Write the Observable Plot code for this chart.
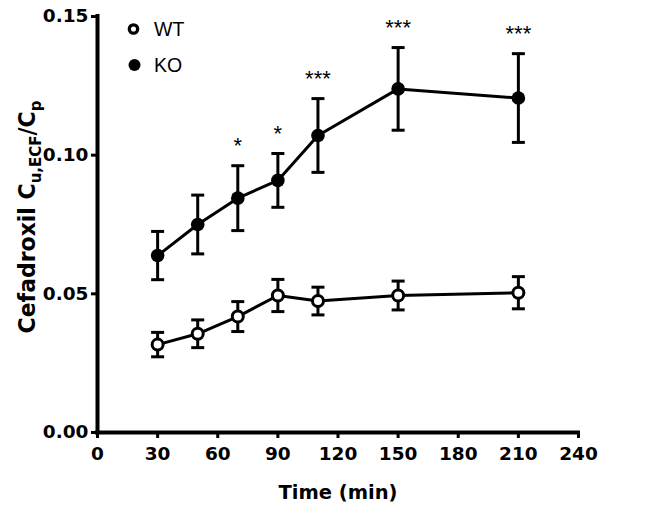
<!DOCTYPE html>
<html>
<head>
<meta charset="utf-8">
<script src="https://cdn.jsdelivr.net/npm/d3@7"></script>
<script src="https://cdn.jsdelivr.net/npm/@observablehq/plot@0.6"></script>
<style>
  html, body { margin: 0; padding: 0; background: #fff; }
  #chart svg { display: block; }
</style>
</head>
<body>
<div id="chart"></div>
<script>
const times = [30, 50, 70, 90, 110, 150, 210];
const wtMean = [0.0317, 0.0356, 0.0418, 0.0494, 0.0474, 0.0494, 0.0504];
const wtSem  = [0.0044, 0.0050, 0.0054, 0.0058, 0.0050, 0.0052, 0.0058];
const koMean = [0.0638, 0.0750, 0.0845, 0.0909, 0.1071, 0.1239, 0.1206];
const koSem  = [0.0087, 0.0106, 0.0117, 0.0097, 0.0133, 0.0149, 0.0160];
const signif = ["", "", "*", "*", "***", "***", "***"];
const xTicks = [0, 30, 60, 90, 120, 150, 180, 210, 240];
const yTicks = [0, 0.05, 0.10, 0.15];
const seriesNames = ["WT", "KO"];

const wt = times.map((t, i) => ({t, m: wtMean[i], s: wtSem[i]}));
const ko = times.map((t, i) => ({t, m: koMean[i], s: koSem[i], sig: signif[i]}));

const cap = { draw(ctx) { ctx.moveTo(-6.5, 0); ctx.lineTo(6.5, 0); } };
const boldFont = "'DejaVu Sans', Verdana, sans-serif";
const plainFont = "'Liberation Sans', Arial, Helvetica, sans-serif";

function errorMarks(data) {
  return [
    Plot.ruleX(data, {x: "t", y1: d => d.m - d.s, y2: d => d.m + d.s, stroke: "black", strokeWidth: 3}),
    Plot.dot(data, {x: "t", y: d => d.m + d.s, symbol: cap, stroke: "black", strokeWidth: 3, fill: "none"}),
    Plot.dot(data, {x: "t", y: d => d.m - d.s, symbol: cap, stroke: "black", strokeWidth: 3, fill: "none"})
  ];
}

const plot = Plot.plot({
  width: 671,
  height: 514,
  marginLeft: 97,
  marginRight: 93,
  marginTop: 16,
  marginBottom: 82,
  style: {fontFamily: boldFont, fontWeight: "bold", fontSize: "18.5px", color: "black", background: "white"},
  x: {domain: [0, 240]},
  y: {domain: [0, 0.15]},
  marks: [
    Plot.axisX({ticks: xTicks, tickSize: 6, tickPadding: 8, strokeWidth: 3, tickFormat: d3.format("d"),
      label: null, fontSize: 18.5}),
    Plot.axisX({ticks: [], tickSize: 0, label: "Time (min)", labelAnchor: "center", labelArrow: "none",
      labelOffset: 66, fontSize: 19.5}),
    Plot.axisY({ticks: yTicks, tickSize: 6, tickPadding: 3, strokeWidth: 3, tickFormat: d3.format(".2f"),
      label: null, fontSize: 18.5}),
    Plot.ruleY([0], {stroke: "black", strokeWidth: 4, strokeLinecap: "square"}),
    Plot.ruleX([0], {stroke: "black", strokeWidth: 4, strokeLinecap: "square"}),
    ...errorMarks(wt),
    ...errorMarks(ko),
    Plot.line(wt, {x: "t", y: "m", stroke: "black", strokeWidth: 3}),
    Plot.line(ko, {x: "t", y: "m", stroke: "black", strokeWidth: 3}),
    Plot.dot(wt, {x: "t", y: "m", r: 5.5, fill: "white", stroke: "black", strokeWidth: 3}),
    Plot.dot(ko, {x: "t", y: "m", r: 6.8, fill: "black", stroke: "none"}),
    Plot.text(ko.filter(d => d.sig), {x: "t", y: d => d.m + d.s, text: "sig", dy: -20,
      fontFamily: plainFont, fontSize: 22, fontWeight: "normal", fill: "black"})
  ]
});

const svg = d3.select(plot);
// y-axis title with subscripts
const yt = svg.append("text")
  .attr("transform", "translate(35,217) scale(1.08,1) rotate(-90)")
  .attr("text-anchor", "middle")
  .attr("font-family", boldFont)
  .attr("font-weight", "bold")
  .attr("font-size", 22)
  .attr("fill", "black");
yt.append("tspan").text("Cefadroxil C");
yt.append("tspan").attr("font-size", 15).attr("dy", 6).text("u,ECF");
yt.append("tspan").attr("dy", -6).text("/C");
yt.append("tspan").attr("font-size", 15).attr("dy", 6).text("p");

// legend inside the plot
const lg = svg.append("g").attr("font-family", plainFont).attr("font-size", 19.5)
  .attr("font-weight", "normal").attr("text-anchor", "start");
seriesNames.forEach((name, i) => {
  const y = 29 + i * 36;
  if (name === "WT") {
    lg.append("circle").attr("cx", 133.5).attr("cy", y).attr("r", 4.2).attr("fill", "white").attr("stroke", "black").attr("stroke-width", 3.3);
  } else {
    lg.append("circle").attr("cx", 134.5).attr("cy", y).attr("r", 6).attr("fill", "black");
  }
  lg.append("text").attr("x", 154).attr("y", y).attr("dy", "0.36em").attr("fill", "black").text(name);
});

document.getElementById("chart").appendChild(plot);
</script>
</body>
</html>
